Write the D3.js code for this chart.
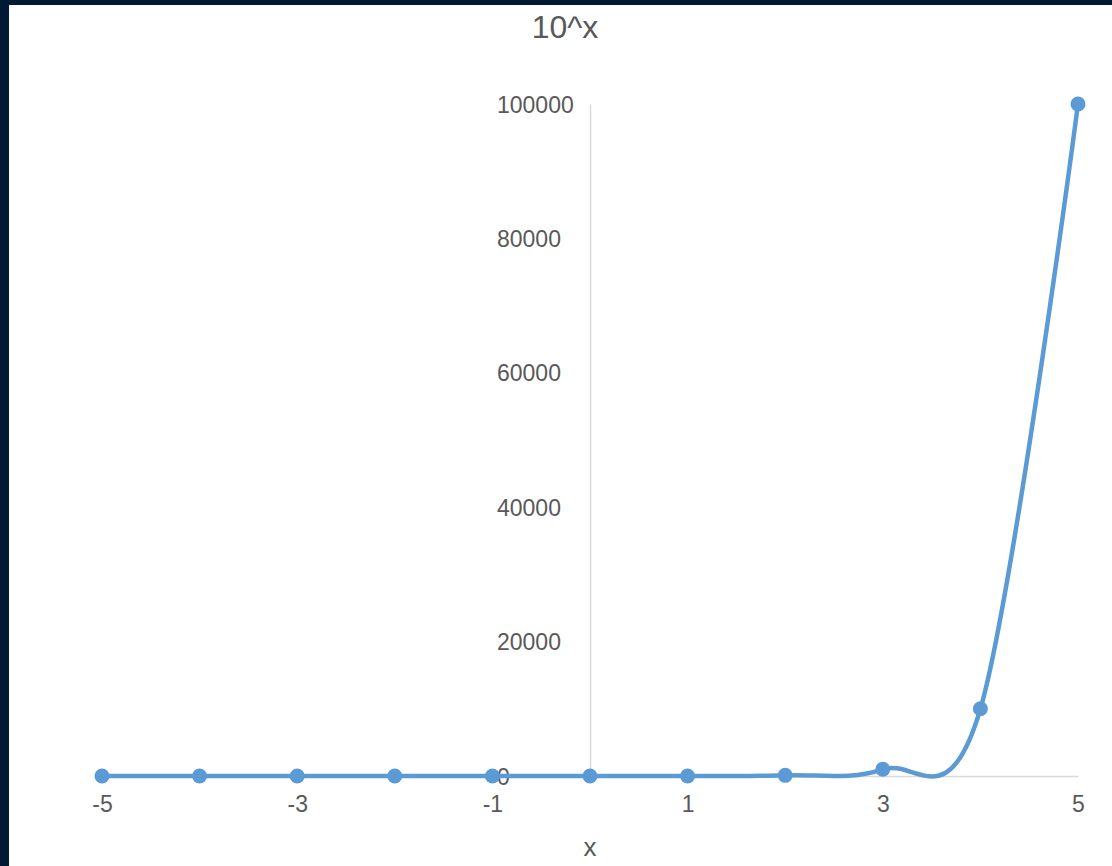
<!DOCTYPE html>
<html>
<head>
<meta charset="utf-8">
<script src="https://cdn.jsdelivr.net/npm/d3@7"></script>
<style>
  html, body { margin: 0; padding: 0; background: #011a33; }
  svg { display: block; }
  text { font-family: "Liberation Sans", Arial, sans-serif; fill: #595959; }
</style>
</head>
<body>
<svg id="chart" width="1112" height="866"></svg>
<script>
// Powers of ten, x from -5 to 5
const xValues = [-5, -4, -3, -2, -1, 0, 1, 2, 3, 4, 5];
const yValues = [0.00001, 0.0001, 0.001, 0.01, 0.1, 1, 10, 100, 1000, 10000, 100000];
const xTicks = [-5, -3, -1, 1, 3, 5];
const yTicks = [0, 20000, 40000, 60000, 80000, 100000];
const chartTitle = "10^x";
const xTitle = "x";

const W = 1112, H = 866;
const svg = d3.select("#chart");

// white chart area inside the dark frame
svg.append("rect").attr("x", 9).attr("y", 5).attr("width", W - 9).attr("height", H - 5).attr("fill", "#ffffff");

const x = d3.scaleLinear().domain([-5, 5]).range([102, 1078]);
const y = d3.scaleLinear().domain([0, 100000]).range([776, 104]);

const data = xValues.map((v, i) => ({ x: v, y: yValues[i] }));

// axes crossing at the origin
const xAxis = d3.axisBottom(x).tickValues(xTicks).tickSize(0).tickFormat(d3.format("d"));
const gx = svg.append("g").attr("transform", `translate(0,${y(0)})`).call(xAxis);
gx.select(".domain").attr("stroke", "#d9d9d9").attr("stroke-width", 1.5);
gx.selectAll(".tick text")
  .attr("y", 0).attr("dy", null)
  .attr("transform", "translate(0,36)")
  .style("font-size", "23px").attr("fill", "#595959")
  .text(d => d < 0 ? "-" + Math.abs(d) : String(d));

const yAxis = d3.axisLeft(y).tickValues(yTicks).tickSize(0).tickFormat(d3.format("d"));
const gy = svg.append("g").attr("transform", `translate(${x(0)},0)`).call(yAxis);
gy.select(".domain").attr("stroke", "#d9d9d9").attr("stroke-width", 1.5);
gy.selectAll(".tick text")
  .attr("text-anchor", "start")
  .attr("x", 497 - x(0))
  .attr("dy", "0.35em")
  .style("font-size", "23px").attr("fill", "#595959");

// smoothed series line
const line = d3.line()
  .x(d => x(d.x))
  .y(d => y(d.y))
  .curve(d3.curveCardinal.tension(0));

svg.append("path")
  .datum(data)
  .attr("d", line)
  .attr("fill", "none")
  .attr("stroke", "#5b9bd5")
  .attr("stroke-width", 4.5)
  .attr("stroke-linejoin", "round");

svg.append("g").selectAll("circle")
  .data(data)
  .join("circle")
  .attr("cx", d => x(d.x))
  .attr("cy", d => y(d.y))
  .attr("r", 7.5)
  .attr("fill", "#5b9bd5");

// titles
svg.append("text")
  .attr("x", 565).attr("y", 38)
  .attr("text-anchor", "middle")
  .style("font-size", "32px")
  .text(chartTitle);

svg.append("text")
  .attr("x", 590).attr("y", 856)
  .attr("text-anchor", "middle")
  .style("font-size", "26px")
  .text(xTitle);
</script>
</body>
</html>
